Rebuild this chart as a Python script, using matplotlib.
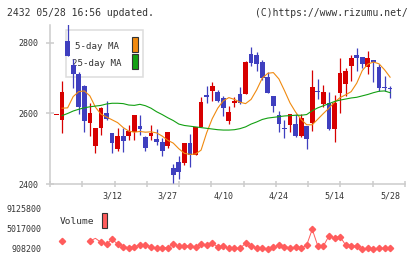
import numpy as np
import matplotlib
matplotlib.use("Agg")
import matplotlib.pyplot as plt
from matplotlib.patches import Rectangle

W, H = 420, 259

## daily candles (2432), index 0 .. 60
opens = [2597, 2582, 2806, 2738, 2712, 2678, 2574, 2509, 2558, 2602,
         2546, 2498, 2537, 2537, 2548, 2565, 2534, 2537, 2528, 2520,
         2509, 2444, 2463, 2460, 2517, 2482, 2563, 2652, 2664, 2662,
         2645, 2580, 2631, 2654, 2654, 2768, 2766, 2745, 2703, 2650,
         2596, 2560, 2566, 2570, 2537, 2565, 2574, 2664, 2627, 2631,
         2556, 2659, 2684, 2736, 2766, 2759, 2732, 2752, 2731, 2676,
         2670]
highs = [2597, 2692, 2860, 2754, 2719, 2681, 2631, 2560, 2619, 2636,
         2546, 2560, 2560, 2567, 2596, 2596, 2536, 2567, 2555, 2530,
         2548, 2456, 2480, 2517, 2542, 2562, 2648, 2678, 2690, 2667,
         2650, 2621, 2648, 2674, 2749, 2788, 2775, 2752, 2718, 2650,
         2607, 2582, 2598, 2598, 2598, 2565, 2723, 2698, 2681, 2662,
         2652, 2757, 2730, 2766, 2787, 2759, 2777, 2752, 2740, 2706,
         2678]
lows = [2597, 2545, 2763, 2673, 2599, 2548, 2536, 2487, 2539, 2582,
        2489, 2494, 2492, 2525, 2525, 2539, 2494, 2525, 2511, 2480,
        2501, 2404, 2413, 2454, 2449, 2482, 2563, 2629, 2635, 2632,
        2594, 2570, 2617, 2626, 2654, 2735, 2721, 2695, 2657, 2603,
        2547, 2531, 2548, 2534, 2534, 2499, 2550, 2641, 2618, 2553,
        2520, 2600, 2650, 2692, 2721, 2730, 2711, 2688, 2664, 2664,
        2643]
closes = [2597, 2662, 2763, 2712, 2619, 2580, 2600, 2560, 2616, 2584,
          2517, 2536, 2523, 2550, 2596, 2555, 2503, 2546, 2518, 2494,
          2548, 2425, 2435, 2517, 2482, 2562, 2633, 2648, 2678, 2635,
          2616, 2603, 2635, 2631, 2747, 2742, 2740, 2702, 2659, 2622,
          2569, 2557, 2598, 2537, 2586, 2528, 2676, 2661, 2662, 2555,
          2631, 2716, 2721, 2758, 2758, 2740, 2758, 2747, 2673, 2671,
          2669]

ma5 = [np.nan, 2615, 2616, 2648, 2662, 2664, 2650, 2618, 2598, 2590,
       2582, 2574, 2560, 2550, 2547, 2549, 2547, 2548, 2545, 2536,
       2524, 2516, 2500, 2487, 2484, 2485, 2496, 2545, 2585, 2615,
       2636, 2645, 2640, 2632, 2628, 2640, 2667, 2700, 2714, 2716,
       2698, 2665, 2630, 2604, 2583, 2568, 2568, 2584, 2600, 2615,
       2632, 2645, 2653, 2662, 2686, 2722, 2740, 2746, 2741, 2724,
       2703]
ma25 = [np.nan, 2594, 2600, 2607, 2612, 2616, 2619, 2621, 2623, 2627,
        2629, 2629, 2628, 2624, 2623, 2626, 2622, 2615, 2605, 2597,
        2588, 2580, 2570, 2566, 2564, 2562, 2560, 2558, 2556, 2554,
        2553, 2553, 2554, 2557, 2562, 2570, 2576, 2583, 2587, 2589,
        2591, 2593, 2594, 2595, 2595, 2597, 2608, 2616, 2622, 2628,
        2634, 2638, 2641, 2644, 2646, 2650, 2654, 2659, 2663, 2664,
        2659]

volume = [np.nan, 2550000, np.nan, np.nan, np.nan, np.nan, 2550000, 3100000, 2280000, 1870000,
          2890000, 1940000, 1390000, 1180000, 1390000, 1730000, 1730000, 1390000, 1040000, 1180000,
          1180000, 1940000, 1520000, 1520000, 1520000, 1250000, 1940000, 1730000, 2070000, 1390000,
          1520000, 1040000, 1040000, 1040000, 2070000, 1520000, 1180000, 1040000, 840000, 1250000,
          1730000, 1390000, 1180000, 1250000, 1040000, 1730000, 4950000, 1520000, 1520000, 3580000,
          3240000, 3440000, 1730000, 1520000, 1520000, 840000, 1040000, 840000, 1040000, 1040000,
          1040000]

date_pos = [10, 20, 30, 40, 50, 60]
date_labels = ["3/12", "3/27", "4/10", "4/24", "5/14", "5/28"]
price_ticks = [2400, 2600, 2800]
vol_ticks = [908200, 5017000, 9125800]

red = "#d70000"
blue = "#3f3fbf"
orange = "#f08a10"
green = "#12a012"
volc = "#ff5c5c"
grid = "#cccccc"
txt = "#333333"
mono = "DejaVu Sans Mono"


def fx(px):
    return px / W


def fy(py):
    return 1 - py / H


fig = plt.figure(figsize=(W / 100, H / 100), dpi=100)

# main price panel
ax = fig.add_axes([fx(50), fy(184), fx(405) - fx(50), fy(25) - fy(184)])
x = np.arange(len(closes))
body_w = 0.85
for i in x:
    o, c = opens[i], closes[i]
    col = red if c >= o else blue
    ax.vlines(i, lows[i], highs[i], color=col, lw=0.9, zorder=3)
    h = max(abs(c - o), 2.5)
    ax.bar(i, h, bottom=min(o, c), width=body_w, color=col, lw=0, zorder=3)

ax.plot(x, ma5, color=orange, lw=0.8, zorder=4)
ax.plot(x, ma25, color=green, lw=0.8, zorder=4)

ax.set_xlim(-1.17, 62.68)
ax.set_ylim(2400, 2851)
for s in ["top", "right"]:
    ax.spines[s].set_visible(False)
for s in ["left", "bottom"]:
    ax.spines[s].set_color(grid)
    ax.spines[s].set_linewidth(1.1)
ax.set_yticks(price_ticks)
ax.set_yticklabels([str(v) for v in price_ticks], fontname=mono, fontsize=6, color=txt)
ax.set_xticks(np.linspace(-1.17, 62.68, 12))
ax.set_xticklabels([])
ax.tick_params(axis="y", direction="inout", length=6, width=1.1, color=grid, pad=5)
ax.tick_params(axis="x", direction="inout", length=5, width=1.1, color=grid)

# legend box (drawn under the candles like the original)
ax.add_patch(Rectangle((fx(65.7), fy(77)), fx(143.3) - fx(65.7), fy(30) - fy(77),
                       transform=fig.transFigure, facecolor="white", edgecolor="#dddddd",
                       lw=1.1, zorder=1, clip_on=False))
ax.text(fx(96.7), fy(46.7), "5-day MA", transform=fig.transFigure, ha="center", va="center",
        fontname=mono, fontsize=6.6, color=txt, zorder=2)
ax.text(fx(96.7), fy(63.3), "25-day MA", transform=fig.transFigure, ha="center", va="center",
        fontname=mono, fontsize=6.6, color=txt, zorder=2)
ax.add_patch(Rectangle((fx(131.5), fy(51.7)), fx(6), fy(37.3) - fy(51.7),
                       transform=fig.transFigure, facecolor=orange, edgecolor="#333333",
                       lw=0.8, zorder=2, clip_on=False))
ax.add_patch(Rectangle((fx(131.5), fy(68.7)), fx(6), fy(54.3) - fy(68.7),
                       transform=fig.transFigure, facecolor=green, edgecolor="#333333",
                       lw=0.8, zorder=2, clip_on=False))

# volume panel
vax = fig.add_axes([fx(50), fy(255), fx(405) - fx(50), fy(205) - fy(255)])
vax.plot(x, volume, color=volc, lw=0.7, marker="D", ms=3.2, mec=volc, mfc=volc,
         markevery=[i for i in x if i != 7])
vax.set_xlim(-1.17, 62.68)
vax.set_ylim(-324440, 9947560)
for s in vax.spines.values():
    s.set_visible(False)
vax.set_yticks(vol_ticks)
vax.set_yticklabels([str(v) for v in vol_ticks], fontname=mono, fontsize=6, color=txt)
vax.tick_params(axis="y", length=0, pad=6)
vax.set_xticks(date_pos)
vax.set_xticklabels(date_labels, fontname=mono, fontsize=6, color=txt)
vax.tick_params(axis="x", length=0, top=False, bottom=False, labeltop=True,
                labelbottom=False, pad=3)

vax.text(fx(76.5), fy(222), "Volume", transform=fig.transFigure, ha="center", va="center",
         fontname=mono, fontsize=6.8, color=txt)
vax.add_patch(Rectangle((fx(101.5), fy(228.3)), fx(6), fy(212.7) - fy(228.3),
                        transform=fig.transFigure, facecolor=volc, edgecolor="#333333",
                        lw=0.8, clip_on=False))

# header
fig.text(fx(7), fy(13), "2432 05/28 16:56 updated.", ha="left", va="center",
         fontname=mono, fontsize=7.0, color=txt)
fig.text(fx(408), fy(13), "(C)https://www.rizumu.net/", ha="right", va="center",
         fontname=mono, fontsize=7.0, color=txt)

fig.savefig("out.png", dpi=100)
